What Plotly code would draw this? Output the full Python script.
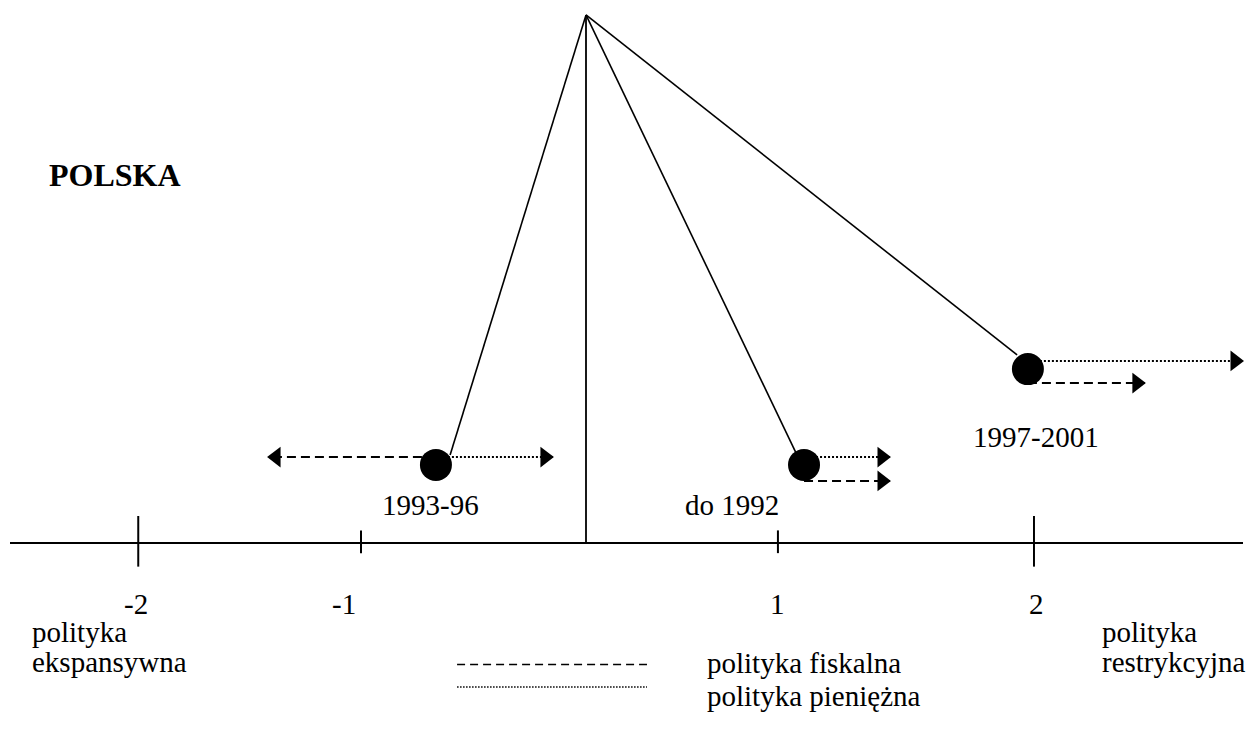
import plotly.graph_objects as go

# ---------------- data (diagram units: 0 = centre line, axis line at y = 0) -------------
tick_labels = ["-2", "-1", "1", "2"]
tick_pos = [-1.99, -1.0, 0.853, 1.991]
tick_label_pos = [-2.0, -1.075, 0.853, 2.004]

periods = ["1993-96", "do 1992", "1997-2001"]
ball_x = [-0.667, 0.969, 1.964]
ball_y = [0.347, 0.347, 0.773]
stem_x = [-0.604, 0.938, 1.916]
stem_y = [0.391, 0.391, 0.836]
apex_x = [0.0]
apex_y = [2.347]

fiscal_y = [0.382, 0.276, 0.711]      # polityka fiskalna (dashed)
fiscal_end = [-1.413, 1.351, 2.484]
monetary_y = [0.382, 0.382, 0.809]    # polityka pieniężna (dotted)
monetary_end = [-0.147, 1.351, 2.92]

period_label_x = [-0.693, 0.649, 2.0]
period_label_y = [0.169, 0.169, 0.471]

axis_x = [-2.56, 2.92]

# ---------------- style ----------------------------------------------------------------
PX = 225.0                     # pixels per diagram unit
FONT = "Liberation Serif, Times New Roman, Times, serif"
BLACK = "black"
tick_half = [0.12, 0.056, 0.056, 0.12]
tick_low = [0.105, 0.045, 0.045, 0.105]
head = 8.0 / PX

fig = go.Figure()


def line(xs, ys, width=1.6, dash=None):
    fig.add_trace(go.Scatter(x=xs, y=ys, mode="lines",
                             line=dict(color=BLACK, width=width, dash=dash),
                             hoverinfo="skip", showlegend=False))


# horizontal axis
line(axis_x, [0, 0], width=2)
for p, hu, hl in zip(tick_pos, tick_half, tick_low):
    line([p, p], [hu, -hl], width=2)

# central vertical line
line([apex_x[0], apex_x[0]], [0, apex_y[0]], width=1.8)

# stems from apex to the balls
for sx, sy in zip(stem_x, stem_y):
    line([apex_x[0], sx], [apex_y[0], sy], width=1.6)


# policy arrows
def arrow(x0, x1, y, dash, width):
    line([x0, x1], [y, y], width=width, dash=dash)
    d = 1 if x1 > x0 else -1
    fig.add_trace(go.Scatter(
        x=[x1 - d * head], y=[y], mode="markers",
        marker=dict(symbol="triangle-right" if d > 0 else "triangle-left",
                    size=18, color=BLACK, line=dict(width=0)),
        hoverinfo="skip", showlegend=False))


for bx, fy, fe in zip(ball_x, fiscal_y, fiscal_end):
    arrow(bx, fe, fy, "9px,5px", 2)
for bx, my, me in zip(ball_x, monetary_y, monetary_end):
    arrow(bx, me, my, "2px,2px", 2)

# balls
fig.add_trace(go.Scatter(x=ball_x, y=ball_y, mode="markers",
                         marker=dict(size=32, color=BLACK, line=dict(width=0)),
                         hoverinfo="skip", showlegend=False))

# legend lines
leg_x = [-0.573, 0.271]
leg_y = [-0.54, -0.64]
line(leg_x, [leg_y[0]] * 2, width=1.6, dash="8px,5px")
line(leg_x, [leg_y[1]] * 2, width=1.3, dash="1.5px,1.5px")

ann = []


def text(x, y, s, xanchor="center", size=29, bold=False):
    ann.append(dict(x=x, y=y, xref="x", yref="y", text=f"<b>{s}</b>" if bold else s,
                    showarrow=False, xanchor=xanchor, yanchor="middle",
                    font=dict(family=FONT, size=size, color=BLACK)))


for lx, lab in zip(tick_label_pos, tick_labels):
    text(lx, -0.27, lab)
for px_, py_, lab in zip(period_label_x, period_label_y, periods):
    text(px_, py_, lab)

text(-2.395, 1.636, "POLSKA", xanchor="left", size=32, bold=True)
text(-2.472, -0.395, "polityka", xanchor="left")
text(-2.472, -0.53, "ekspansywna", xanchor="left")
text(2.284, -0.395, "polityka", xanchor="left")
text(2.284, -0.53, "restrykcyjna", xanchor="left")
text(0.528, -0.535, "polityka fiskalna", xanchor="left")
text(0.528, -0.68, "polityka pieniężna", xanchor="left")

fig.update_layout(
    width=1249, height=749,
    margin=dict(l=0, r=0, t=0, b=0),
    paper_bgcolor="white", plot_bgcolor="white",
    font=dict(family=FONT),
    xaxis=dict(range=[-586 / PX, 663 / PX], visible=False, fixedrange=True),
    yaxis=dict(range=[-206 / PX, 543 / PX], visible=False, fixedrange=True),
    annotations=ann,
    showlegend=False,
)

fig.write_html("out.html",
               config={"displayModeBar": False},
               post_script="document.body.style.margin='0';document.body.style.overflow='hidden';")
